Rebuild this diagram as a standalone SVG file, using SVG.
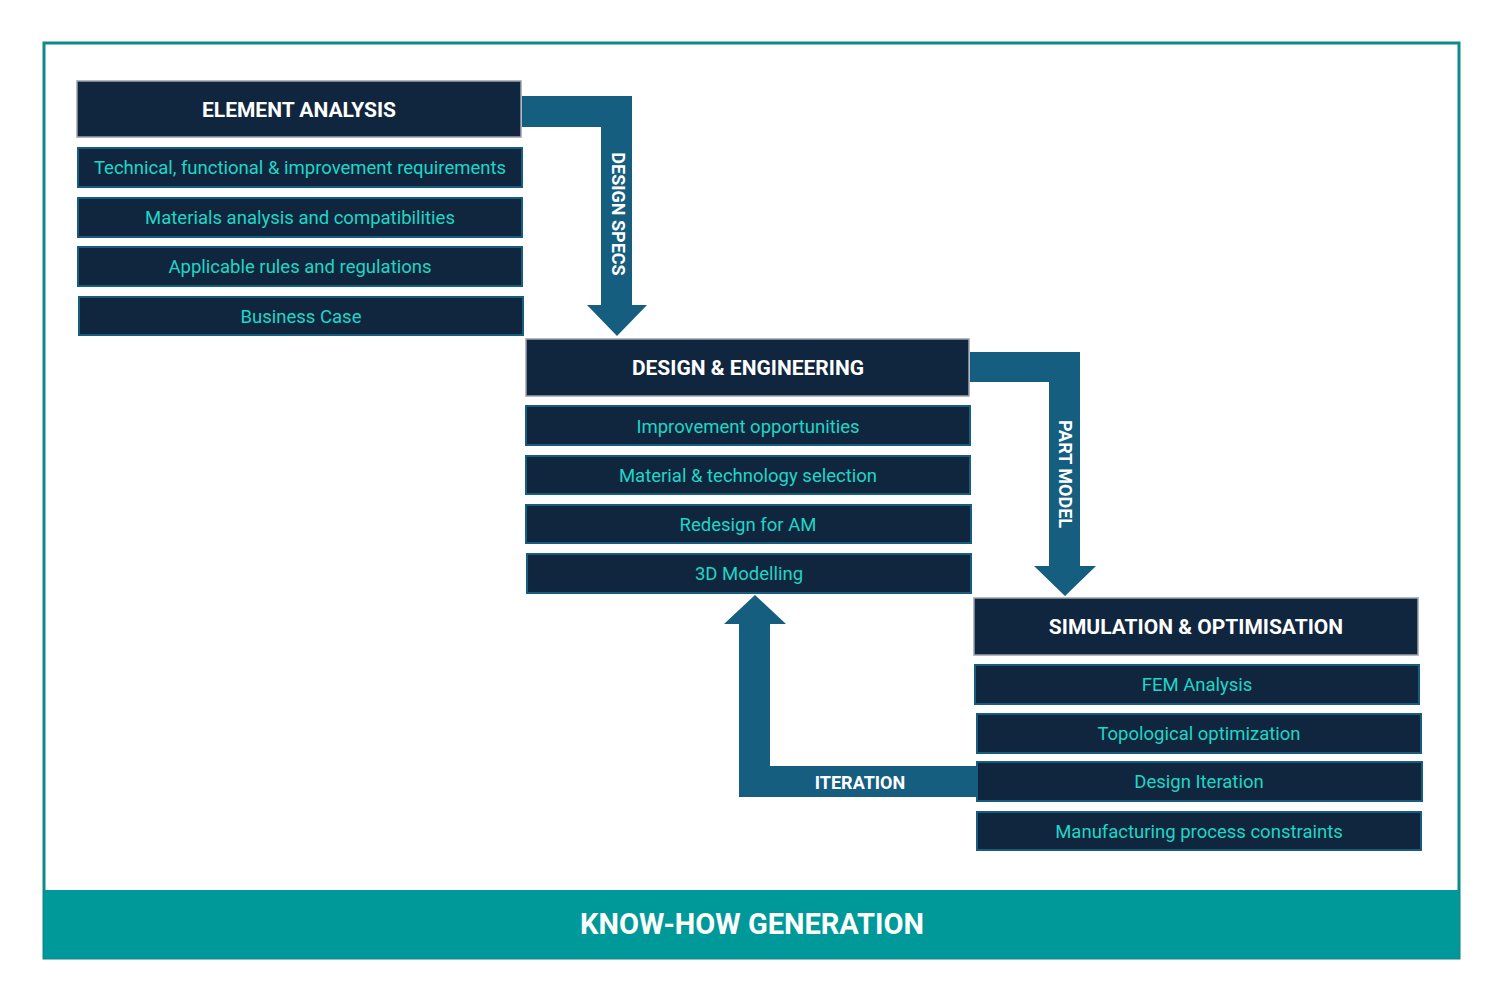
<svg xmlns="http://www.w3.org/2000/svg" width="1506" height="1003" viewBox="0 0 1506 1003">
<style>
.h{fill:#10263f;stroke:#9aa3ad;stroke-width:1.5}
.s{fill:#10263f;stroke:#155e80;stroke-width:2}
.ht{font-family:Roboto,"Liberation Sans",sans-serif;font-weight:bold;font-size:21px;fill:#fff;text-anchor:middle}
.st{font-family:Roboto,"Liberation Sans",sans-serif;font-size:18.5px;fill:#1fd6c6;text-anchor:middle}
.ar{fill:#155e80}
.at{font-family:Roboto,"Liberation Sans",sans-serif;font-weight:bold;font-size:18px;fill:#fff;text-anchor:middle}
</style>
<rect width="1506" height="1003" fill="#fff"/>
<rect x="44" y="43" width="1415" height="915" fill="#fff" stroke="#0e8a8a" stroke-width="3"/>
<rect x="44" y="890" width="1415" height="68" fill="#009999"/>
<text x="752" y="934" font-family="Roboto,'Liberation Sans',sans-serif" font-weight="bold" font-size="29" fill="#fff" text-anchor="middle">KNOW-HOW GENERATION</text>
<g id="connectors">
<polygon class="ar" points="522,96 632,96 632,305 647,305 617,336 587,305 601,305 601,127 522,127"/>
<text class="at" transform="translate(612,214) rotate(90)">DESIGN SPECS</text>
<polygon class="ar" points="970,352 1080,352 1080,566 1096,566 1065,596 1034,566 1049,566 1049,382 970,382"/>
<text class="at" transform="translate(1059,474) rotate(90)">PART MODEL</text>
<polygon class="ar" points="976,766 976,797 739,797 739,624 724,624 755,595 786,624 770,624 770,766"/>
<text class="at" x="860" y="789">ITERATION</text>
</g>
<g id="element-analysis">
<rect class="h" x="77" y="81" width="444" height="56"/><text class="ht" x="299" y="117">ELEMENT ANALYSIS</text>
<rect class="s" x="78" y="148" width="444" height="39"/><text class="st" x="300" y="174">Technical, functional  &amp; improvement requirements</text>
<rect class="s" x="78" y="198" width="444" height="39"/><text class="st" x="300" y="224">Materials analysis and compatibilities</text>
<rect class="s" x="78" y="247" width="444" height="39"/><text class="st" x="300" y="273">Applicable rules and regulations</text>
<rect class="s" x="79" y="297" width="444" height="38"/><text class="st" x="301" y="323">Business Case</text>
</g>
<g id="design-engineering">
<rect class="h" x="526" y="339" width="443" height="57"/><text class="ht" x="748" y="375">DESIGN &amp; ENGINEERING</text>
<rect class="s" x="526" y="406" width="444" height="39"/><text class="st" x="748" y="433">Improvement opportunities</text>
<rect class="s" x="526" y="456" width="444" height="38"/><text class="st" x="748" y="482">Material &amp; technology selection</text>
<rect class="s" x="526" y="505" width="445" height="38"/><text class="st" x="748" y="531">Redesign for AM</text>
<rect class="s" x="527" y="554" width="444" height="39"/><text class="st" x="749" y="580">3D Modelling</text>
</g>
<g id="simulation-optimisation">
<rect class="h" x="974" y="598" width="444" height="57"/><text class="ht" x="1196" y="634">SIMULATION &amp; OPTIMISATION</text>
<rect class="s" x="975" y="665" width="444" height="39"/><text class="st" x="1197" y="691">FEM Analysis</text>
<rect class="s" x="977" y="714" width="444" height="39"/><text class="st" x="1199" y="740">Topological optimization</text>
<rect class="s" x="977" y="762" width="445" height="39"/><text class="st" x="1199" y="788">Design Iteration</text>
<rect class="s" x="977" y="812" width="444" height="38"/><text class="st" x="1199" y="838">Manufacturing process constraints</text>
</g>
</svg>
